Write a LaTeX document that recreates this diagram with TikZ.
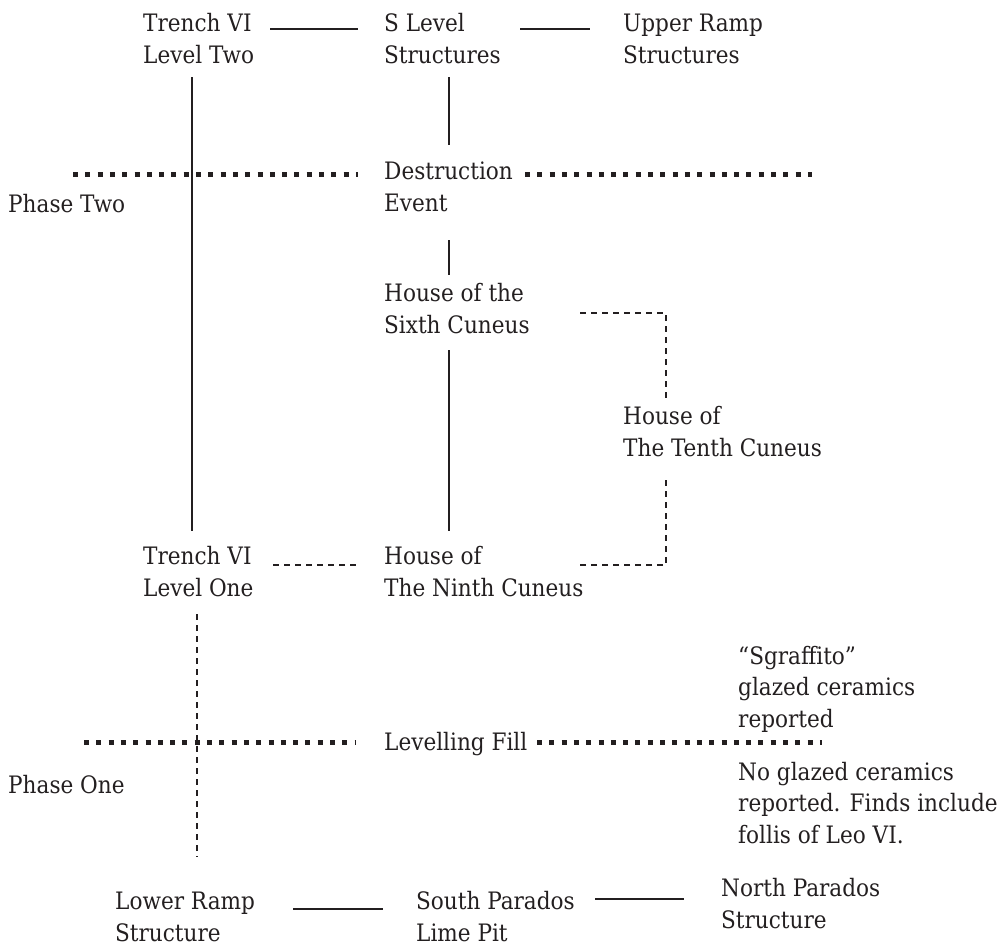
\documentclass[tikz,border=0pt]{standalone}
\usepackage{fontspec}
\setmainfont{DejaVu Serif Condensed}
\definecolor{ink}{HTML}{231F20}
\begin{document}
\begin{tikzpicture}[x=1pt,y=-1pt,
  lbl/.style={anchor=base west,align=left,inner sep=0pt,text=ink,
    font=\fontsize{24}{31.5}\selectfont},
  solidln/.style={draw=ink,line width=1.6pt},
  dashln/.style={draw=ink,line width=1.6pt,dash pattern=on 6pt off 5pt},
  dotln/.style={draw=ink,line width=5pt,dash pattern=on 5pt off 7.3pt}]
\useasboundingbox (0,0) rectangle (1006,945);
% nodes (anchored at the baseline of their last line)
\node[lbl] (t2) at (143,63) {Trench VI\\Level Two};
\node[lbl] (sl) at (384,63) {S Level\\Structures};
\node[lbl] (ur) at (623,63) {Upper Ramp\\Structures};
\node[lbl] (de) at (384,211) {Destruction\\Event};
\node[lbl] (p2) at (8,212) {Phase Two};
\node[lbl] (h6) at (384,333) {House of the\\Sixth Cuneus};
\node[lbl] (h10) at (623,456) {House of\\The Tenth Cuneus};
\node[lbl] (h9) at (384,596) {House of\\The Ninth Cuneus};
\node[lbl] (t1) at (143,596) {Trench VI\\Level One};
\node[lbl] (lf) at (384,750) {Levelling Fill};
\node[lbl] (p1) at (8,793) {Phase One};
\node[lbl] (sg) at (738,727) {“Sgraffito”\\glazed ceramics\\reported};
\node[lbl] (ng) at (738,843) {No glazed ceramics\\reported. Finds include\\follis of Leo VI.};
\node[lbl] (lr) at (115,941) {Lower Ramp\\Structure};
\node[lbl] (sp) at (416,941) {South Parados\\Lime Pit};
\node[lbl] (np) at (721,928) {North Parados\\Structure};
% connector end points
\coordinate (a1) at (270,29); \coordinate (a2) at (358,29);
\coordinate (b1) at (520,29); \coordinate (b2) at (590,29);
\coordinate (c1) at (192,77); \coordinate (c2) at (192,531);
\coordinate (d1) at (449,77); \coordinate (d2) at (449,145);
\coordinate (e1) at (73,174); \coordinate (e2) at (358,174);
\coordinate (f1) at (525,174); \coordinate (f2) at (812,174);
\coordinate (g1) at (449,240); \coordinate (g2) at (449,275);
\coordinate (h1) at (580,313); \coordinate (h2) at (666,313); \coordinate (h3) at (666,398);
\coordinate (i1) at (666,480); \coordinate (i2) at (666,565); \coordinate (i3) at (580,565);
\coordinate (j1) at (449,350); \coordinate (j2) at (449,531);
\coordinate (k1) at (273,565); \coordinate (k2) at (359,565);
\coordinate (l1) at (197,614); \coordinate (l2) at (197,857);
\coordinate (m1) at (84,742); \coordinate (m2) at (355,742);
\coordinate (n1) at (537,742); \coordinate (n2) at (822,742);
\coordinate (o1) at (293,909); \coordinate (o2) at (383,909);
\coordinate (q1) at (595,899); \coordinate (q2) at (684,899);
% connectors
\draw[solidln] (a1) -- (a2);
\draw[solidln] (b1) -- (b2);
\draw[solidln] (c1) -- (c2);
\draw[solidln] (d1) -- (d2);
\draw[dotln] (e1) -- (e2);
\draw[dotln] (f1) -- (f2);
\draw[solidln] (g1) -- (g2);
\draw[dashln] (h1) -- (h2) -- (h3);
\draw[dashln] (i1) -- (i2) -- (i3);
\draw[solidln] (j1) -- (j2);
\draw[dashln] (k1) -- (k2);
\draw[dashln] (l1) -- (l2);
\draw[dotln] (m1) -- (m2);
\draw[dotln] (n1) -- (n2);
\draw[solidln] (o1) -- (o2);
\draw[solidln] (q1) -- (q2);
\end{tikzpicture}
\end{document}
